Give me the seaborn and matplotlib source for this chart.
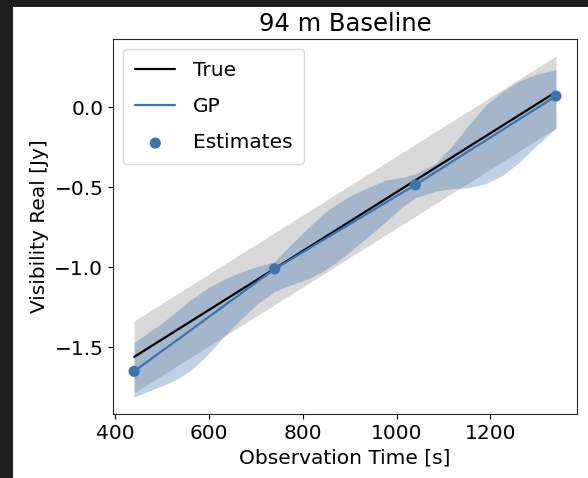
import matplotlib
matplotlib.use("Agg")
import matplotlib.pyplot as plt
from matplotlib.patches import Rectangle
import seaborn as sns
import pandas as pd

# true visibility (straight line) and its shaded band
true_time = [440, 1340]
true_vals = [-1.56, 0.095]
true_lower = [-1.785, -0.13]
true_upper = [-1.335, 0.32]

# GP mean and band
gp_time = [440, 490, 526, 561, 597, 632, 668, 703, 740, 774, 810, 840, 870,
           906, 941, 977, 1013, 1040, 1084, 1119, 1155, 1190, 1226, 1261, 1297, 1340]
gp_mean = [-1.650, -1.543, -1.467, -1.392, -1.315, -1.240, -1.164, -1.089, -1.010,
           -0.951, -0.888, -0.835, -0.783, -0.720, -0.659, -0.595, -0.532, -0.485,
           -0.404, -0.339, -0.272, -0.208, -0.141, -0.076, -0.010, 0.070]
gp_upper = [-1.470, -1.368, -1.287, -1.202, -1.130, -1.075, -1.029, -0.994, -0.965,
            -0.861, -0.758, -0.675, -0.608, -0.545, -0.499, -0.455, -0.437, -0.415,
            -0.349, -0.239, -0.107, 0.012, 0.099, 0.164, 0.205, 0.235]
gp_lower = [-1.810, -1.752, -1.708, -1.645, -1.545, -1.432, -1.324, -1.229, -1.150,
            -1.111, -1.073, -1.030, -0.973, -0.890, -0.804, -0.715, -0.622, -0.565,
            -0.524, -0.509, -0.502, -0.478, -0.426, -0.346, -0.245, -0.130]

# point estimates
est_time = [440, 740, 1040, 1340]
est_vals = [-1.65, -1.01, -0.485, 0.07]

sns.set_style("ticks")
plt.rcParams['font.family'] = ['DejaVu Sans']
plt.rcParams['font.size'] = 14.5
for key in ['text.color', 'axes.labelcolor', 'xtick.color', 'ytick.color']:
    plt.rcParams[key] = 'black'

blue = '#3a75b0'

fig = plt.figure(figsize=(5.88, 4.78), dpi=100, facecolor='#1f1f1f')
# white page inside the dark screenshot frame
fig.add_artist(Rectangle((13 / 588, 0), 1 - 13 / 588, 1 - 7 / 478,
                         transform=fig.transFigure, facecolor='white',
                         edgecolor='none', zorder=-1))
ax = fig.add_axes([113 / 588, 64 / 478, 464 / 588, 375 / 478])

df_true = pd.DataFrame({'t': true_time, 'v': true_vals})
df_gp = pd.DataFrame({'t': gp_time, 'v': gp_mean})
df_est = pd.DataFrame({'t': est_time, 'v': est_vals})

ax.fill_between(true_time, true_lower, true_upper, color='gray', alpha=0.3, lw=0)
ax.fill_between(gp_time, gp_lower, gp_upper, color=blue, alpha=0.33, lw=0)
sns.lineplot(data=df_true, x='t', y='v', color='black', lw=1.6, label='True', ax=ax)
sns.lineplot(data=df_gp, x='t', y='v', color=blue, lw=1.6, label='GP', ax=ax)
sns.scatterplot(data=df_est, x='t', y='v', color=blue, s=65, edgecolor='none',
                label='Estimates', ax=ax, zorder=5)

ax.set_title('94 m Baseline', fontsize=17.5)
ax.set_xlabel('Observation Time [s]')
ax.set_ylabel('Visibility Real [Jy]')
ax.set_xticks([400, 600, 800, 1000, 1200])
ax.set_yticks([0.0, -0.5, -1.0, -1.5])
ax.legend(loc='upper left', labelspacing=0.85, borderpad=0.6, handletextpad=0.85)

fig.savefig('out.png', dpi=100, facecolor=fig.get_facecolor())
